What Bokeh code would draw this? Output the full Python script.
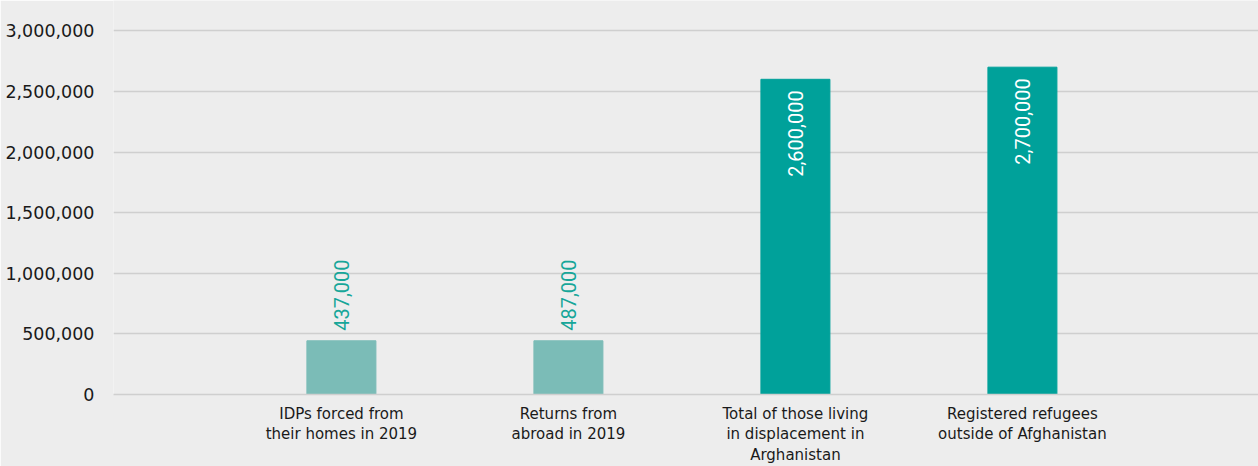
import math
from bokeh.plotting import figure
from bokeh.models import ColumnDataSource, Range1d, FixedTicker, NumeralTickFormatter
from bokeh.core.properties import value
from bokeh.embed import file_html
from bokeh.resources import INLINE

# ---- data ----
categories = [
    "IDPs forced from\ntheir homes in 2019",
    "Returns from\nabroad in 2019",
    "Total of those living\nin displacement in\nArghanistan",
    "Registered refugees\noutside of Afghanistan",
]
bar_values = [443000, 443000, 2600000, 2700000]
value_labels = ["437,000", "487,000", "2,600,000", "2,700,000"]
y_ticks = [0, 500000, 1000000, 1500000, 2000000, 2500000, 3000000]

# ---- style ----
BG = "#ededed"
LIGHT = "#7bbcb7"
DARK = "#00a19a"
bar_colors = [LIGHT, LIGHT, DARK, DARK]

xs = list(range(len(categories)))
src = ColumnDataSource(dict(x=xs, top=bar_values, color=bar_colors, label=value_labels))

p = figure(width=1258, height=466, output_backend="svg", toolbar_location=None,
           x_range=Range1d(-1.004, 4.04), y_range=Range1d(0, 3250000),
           background_fill_color=BG, border_fill_color=BG,
           min_border_left=113, min_border_top=0, min_border_right=0, min_border_bottom=72)
p.outline_line_color = None

p.vbar(x="x", top="top", width=0.304, bottom=0, color="color", source=src)

out_idx = [i for i, v in enumerate(bar_values) if v < 1000000]
in_idx = [i for i, v in enumerate(bar_values) if v >= 1000000]
src_out = ColumnDataSource(dict(x=[xs[i] for i in out_idx], y=[bar_values[i] for i in out_idx],
                                t=[value_labels[i] for i in out_idx]))
src_in = ColumnDataSource(dict(x=[xs[i] for i in in_idx], y=[bar_values[i] for i in in_idx],
                               t=[value_labels[i] for i in in_idx]))
p.text(x="x", y="y", text="t", source=src_out, angle=math.pi / 2, text_align="left",
       text_baseline="middle", y_offset=-10, text_color="#17a699",
       text_font=value("Roboto"), text_font_size="20px")
p.text(x="x", y="y", text="t", source=src_in, angle=math.pi / 2, text_align="right",
       text_baseline="middle", y_offset=11, text_color="#ffffff",
       text_font=value("Roboto"), text_font_size="20px")

# axes
p.yaxis.ticker = FixedTicker(ticks=y_ticks)
p.yaxis.formatter = NumeralTickFormatter(format="0,0")
p.yaxis.axis_line_color = None
p.yaxis.major_tick_line_color = None
p.yaxis.minor_tick_line_color = None
p.yaxis.major_label_standoff = 13
p.yaxis.major_label_text_font = "DejaVu Sans"
p.yaxis.major_label_text_font_size = "17.5px"
p.yaxis.major_label_text_color = "#1a1a1a"
p.yaxis.major_label_text_baseline = "alphabetic"

p.xaxis.ticker = FixedTicker(ticks=xs)
p.xaxis.major_label_overrides = {i: c for i, c in zip(xs, categories)}
p.xaxis.axis_line_color = "#cfcfcf"
p.xaxis.axis_line_width = 1.5
p.xaxis.major_tick_line_color = None
p.xaxis.minor_tick_line_color = None
p.xaxis.major_label_standoff = 4
p.xaxis.major_label_text_font = "DejaVu Sans"
p.xaxis.major_label_text_font_size = "15px"
p.xaxis.major_label_text_line_height = 1.15
p.xaxis.major_label_text_color = "#1a1a1a"

p.xgrid.grid_line_color = None
p.ygrid.grid_line_color = "#cfcfcf"
p.ygrid.grid_line_width = 1.5

open("out.html", "w").write(file_html(p, INLINE))
